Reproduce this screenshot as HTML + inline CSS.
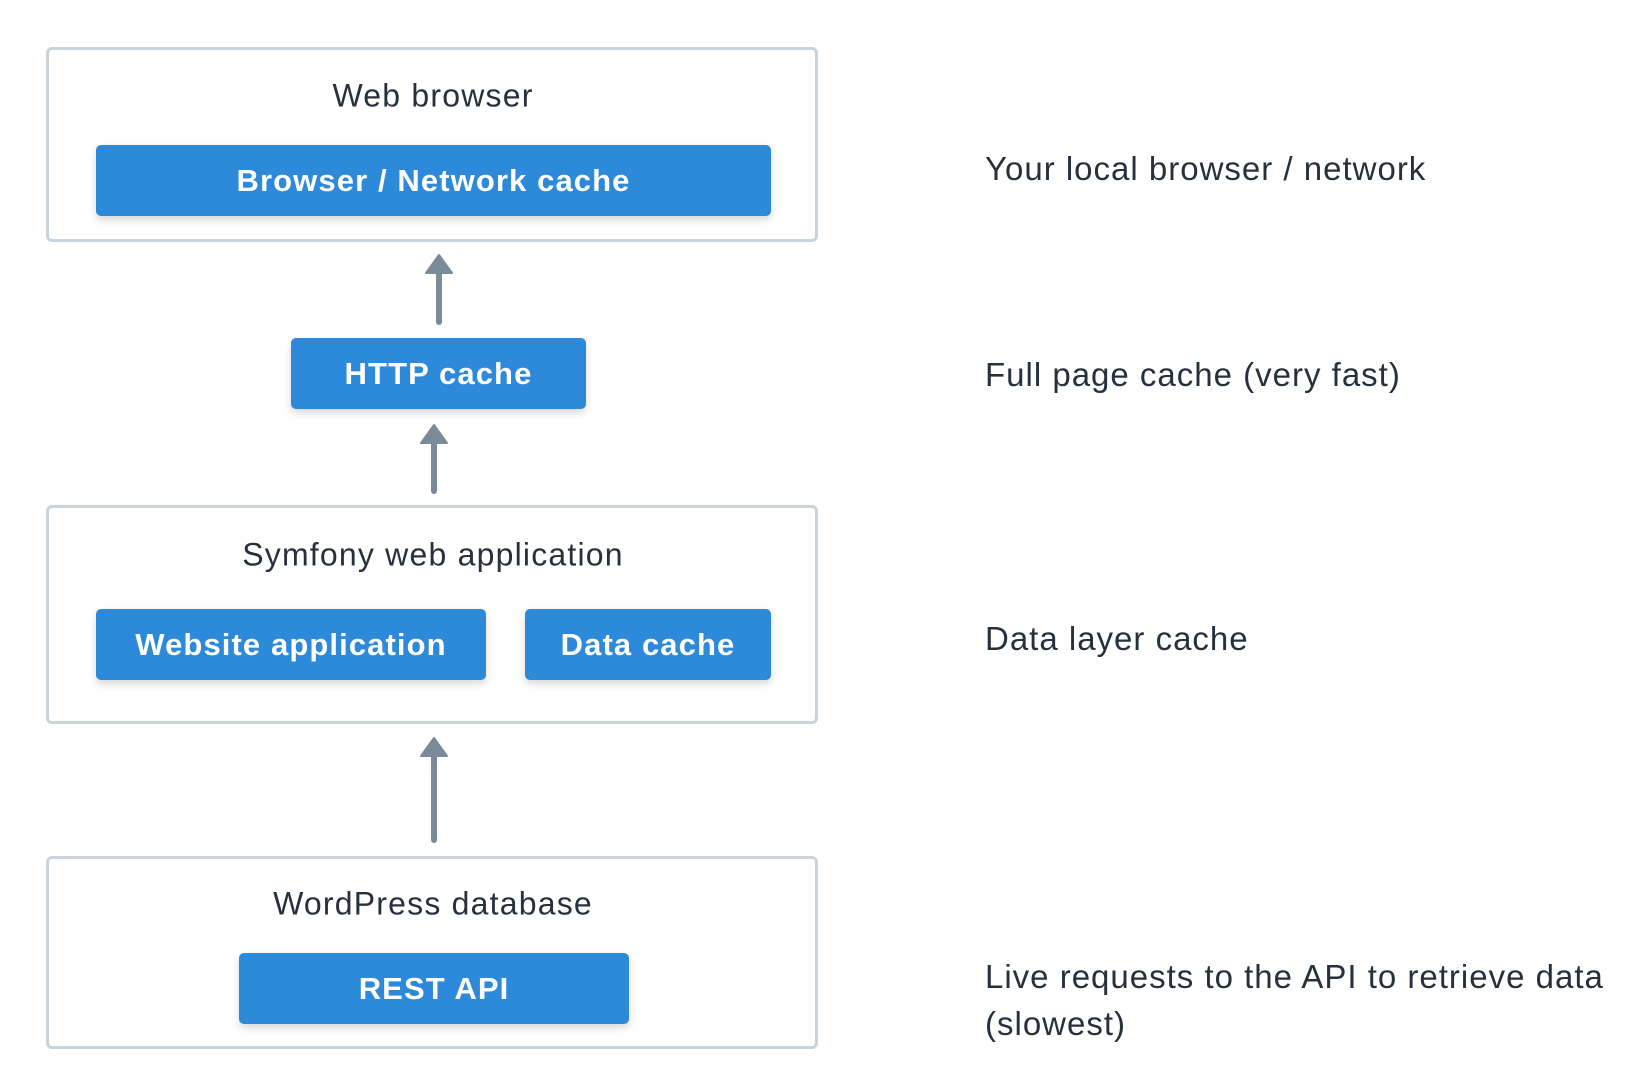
<!DOCTYPE html>
<html><head><meta charset="utf-8"><style>
body{margin:0;width:1646px;height:1092px;background:#fff;position:relative;overflow:hidden;font-family:"Liberation Sans",sans-serif;color:#27313d}
.box{position:absolute;left:46px;border:3px solid #c9d3dc;border-radius:6px;box-sizing:border-box;width:772px}
.t{position:absolute;font-size:32px;letter-spacing:1.2px;white-space:nowrap;transform:translate(-50%,-50%)}
.b{position:absolute;background:#2d89d9;border-radius:5px;color:#fff;font-weight:bold;font-size:31px;letter-spacing:1.1px;display:flex;align-items:center;justify-content:center;box-shadow:0 4px 8px rgba(0,0,0,.15)}
.r{position:absolute;left:985px;font-size:33px;letter-spacing:1.0px;white-space:nowrap;transform:translateY(-50%)}
</style></head><body>
<div class="box" style="top:47px;height:195px"></div>
<div class="t" style="left:433px;top:96px">Web browser</div>
<div class="b" style="left:96px;top:145px;width:675px;height:71px">Browser / Network cache</div>

<div class="b" style="left:291px;top:338px;width:295px;height:71px">HTTP cache</div>

<div class="box" style="top:505px;height:219px"></div>
<div class="t" style="left:433px;top:555px">Symfony web application</div>
<div class="b" style="left:96px;top:609px;width:390px;height:71px">Website application</div>
<div class="b" style="left:525px;top:609px;width:246px;height:71px">Data cache</div>

<div class="box" style="top:856px;height:193px"></div>
<div class="t" style="left:433px;top:904px">WordPress database</div>
<div class="b" style="left:239px;top:953px;width:390px;height:71px">REST API</div>

<svg width="1646" height="1092" style="position:absolute;left:0;top:0" fill="#7b8a98" stroke="#7b8a98">
<line x1="439" y1="270" x2="439" y2="322" stroke-width="6" stroke-linecap="round"/>
<polygon points="439,255 452,273 426,273" stroke-linejoin="round" stroke-width="2"/>
<line x1="434" y1="440" x2="434" y2="491" stroke-width="6" stroke-linecap="round"/>
<polygon points="434,425 447,443 421,443" stroke-linejoin="round" stroke-width="2"/>
<line x1="434" y1="752" x2="434" y2="840" stroke-width="6" stroke-linecap="round"/>
<polygon points="434,738 447,756 421,756" stroke-linejoin="round" stroke-width="2"/>
</svg>

<div class="r" style="top:169px">Your local browser / network</div>
<div class="r" style="top:375px">Full page cache (very fast)</div>
<div class="r" style="top:639px">Data layer cache</div>
<div class="r" style="top:977px">Live requests to the API to retrieve data</div>
<div class="r" style="top:1024px">(slowest)</div>
</body></html>
